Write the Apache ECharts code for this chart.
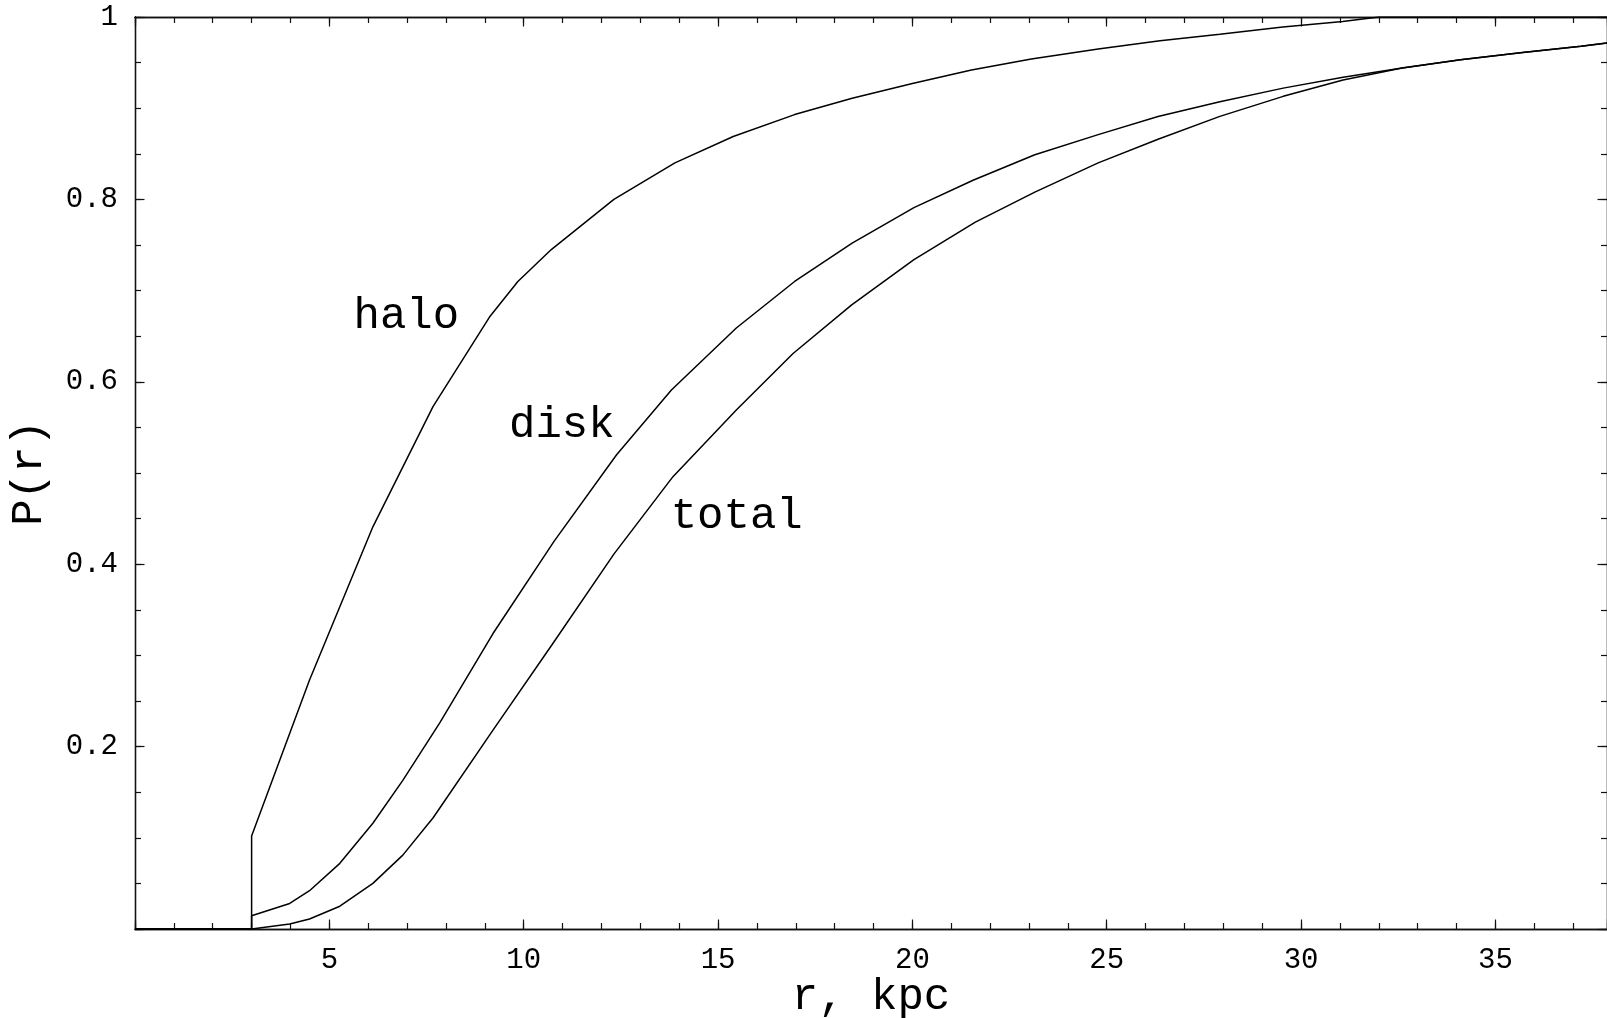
<!DOCTYPE html>
<html>
<head>
<meta charset="utf-8">
<script src="https://cdn.jsdelivr.net/npm/echarts@6/dist/echarts.min.js"></script>
<style>
  html, body { margin: 0; padding: 0; background: #fff; }
  #chart { width: 1607px; height: 1018px; }
</style>
</head>
<body>
<div id="chart"></div>
<script>
// radius (kpc) and P(r)
const haloR = [0, 3, 3, 4.49, 6.12, 7.67, 9.12, 9.85, 10.71, 12.32, 13.89, 15.39, 16.97, 18.45, 20.0, 21.52, 23.06, 24.78, 26.37, 27.91, 29.53, 31.07, 32.0, 37.87];
const haloP = [0, 0, 0.102, 0.273, 0.441, 0.573, 0.671, 0.710, 0.745, 0.800, 0.840, 0.869, 0.893, 0.911, 0.927, 0.942, 0.954, 0.965, 0.974, 0.981, 0.989, 0.995, 1.0, 1.0];

const diskR = [0, 3, 3, 3.98, 4.49, 5.27, 6.12, 6.89, 7.84, 9.21, 10.78, 12.39, 13.80, 15.47, 16.97, 18.45, 20.04, 21.56, 23.15, 24.78, 26.32, 27.91, 29.54, 31.08, 32.6, 34.1, 35.7, 37.2, 37.87];
const diskP = [0, 0, 0.0145, 0.028, 0.042, 0.072, 0.116, 0.163, 0.226, 0.324, 0.425, 0.520, 0.591, 0.659, 0.710, 0.752, 0.791, 0.821, 0.849, 0.871, 0.891, 0.907, 0.922, 0.934, 0.944, 0.953, 0.961, 0.968, 0.9715];

const totalR = [0, 3, 3.98, 4.49, 5.27, 6.12, 6.89, 7.67, 9.21, 10.75, 12.32, 13.84, 15.47, 16.93, 18.43, 20.04, 21.62, 23.15, 24.78, 26.32, 27.91, 29.54, 31.08, 32.6, 34.1, 35.7, 37.2, 37.87];
const totalP = [0, 0, 0.0055, 0.011, 0.025, 0.050, 0.081, 0.122, 0.218, 0.313, 0.411, 0.496, 0.569, 0.631, 0.684, 0.734, 0.775, 0.808, 0.840, 0.866, 0.891, 0.913, 0.931, 0.944, 0.953, 0.961, 0.968, 0.9715];

// curve labels, placed in data coordinates
const labelNames = ["halo", "disk", "total"];
const labelR = [6.98, 10.98, 15.48];
const labelP = [0.672, 0.552, 0.452];

const xMax = 37.87;
const font = "'Courier New', Courier, 'Nimbus Mono PS', FreeMono, 'Liberation Mono', monospace";
const ink = "#111";

const pairs = (xs, ys) => xs.map((x, i) => [x, ys[i]]);

// one axis per tick size and side, mathematica-like frame
function xAxis(pos, interval, len, labels) {
  return {
    type: "value", position: pos, min: 0, max: xMax, interval: interval,
    axisLine: { show: true, onZero: false, lineStyle: { color: ink, width: 1.3 } },
    axisTick: { show: true, inside: true, length: len, lineStyle: { color: ink, width: 1.2 } },
    splitLine: { show: false },
    axisLabel: labels ? {
      show: true, margin: 17, fontFamily: font, fontSize: 29, color: "#000",
      formatter: v => (v > 0 && Math.abs(v % 5) < 1e-6) ? String(v) : ""
    } : { show: false },
    name: pos === "bottom" && labels ? "r, kpc" : "",
    nameLocation: "middle", nameGap: 46, nameMoveOverlap: false,
    nameTextStyle: { fontFamily: font, fontSize: 44, color: "#000" }
  };
}
function yAxis(pos, interval, len, labels) {
  return {
    type: "value", position: pos, min: 0, max: 1, interval: interval,
    axisLine: { show: true, onZero: false, lineStyle: { color: ink, width: 1.3 } },
    axisTick: { show: true, inside: true, length: len, lineStyle: { color: ink, width: 1.2 } },
    splitLine: { show: false },
    axisLabel: labels ? {
      show: true, margin: 17, fontFamily: font, fontSize: 29, color: "#000",
      formatter: v => v > 0 ? String(+v.toFixed(2)) : ""
    } : { show: false },
    name: pos === "left" && labels ? "P(r)" : "",
    nameLocation: "middle", nameGap: 84, nameMoveOverlap: false,
    nameTextStyle: { fontFamily: font, fontSize: 44, color: "#000" }
  };
}

const chart = echarts.init(document.getElementById("chart"));
const line = (name, data) => ({
  name: name, type: "line", data: data, xAxisIndex: 0, yAxisIndex: 0,
  showSymbol: false, symbol: "none", clip: true,
  lineStyle: { color: "#000", width: 1.5 }
});

chart.setOption({
  animation: false,
  backgroundColor: "#fff",
  grid: { left: 135, right: 0, top: 17, bottom: 89, containLabel: false, outerBoundsMode: "none" },
  xAxis: [
    xAxis("bottom", 5, 9.5, true),
    xAxis("bottom", 1, 6, false),
    xAxis("top", 5, 9.5, false),
    xAxis("top", 1, 6, false)
  ],
  yAxis: [
    yAxis("left", 0.2, 9.5, true),
    yAxis("left", 0.05, 6, false),
    yAxis("right", 0.2, 9.5, false),
    yAxis("right", 0.05, 6, false)
  ],
  series: [
    line("halo", pairs(haloR, haloP)),
    line("disk", pairs(diskR, diskP)),
    line("total", pairs(totalR, totalP)),
    {
      type: "scatter", xAxisIndex: 0, yAxisIndex: 0, symbolSize: 0, silent: true,
      itemStyle: { opacity: 1, color: "#000" },
      data: labelNames.map((n, i) => [labelR[i], labelP[i], n]),
      label: {
        show: true, position: "inside", formatter: p => p.value[2],
        fontFamily: font, fontSize: 44, color: "#000",
        textBorderWidth: 0, opacity: 1
      }
    }
  ]
});
</script>
</body>
</html>
